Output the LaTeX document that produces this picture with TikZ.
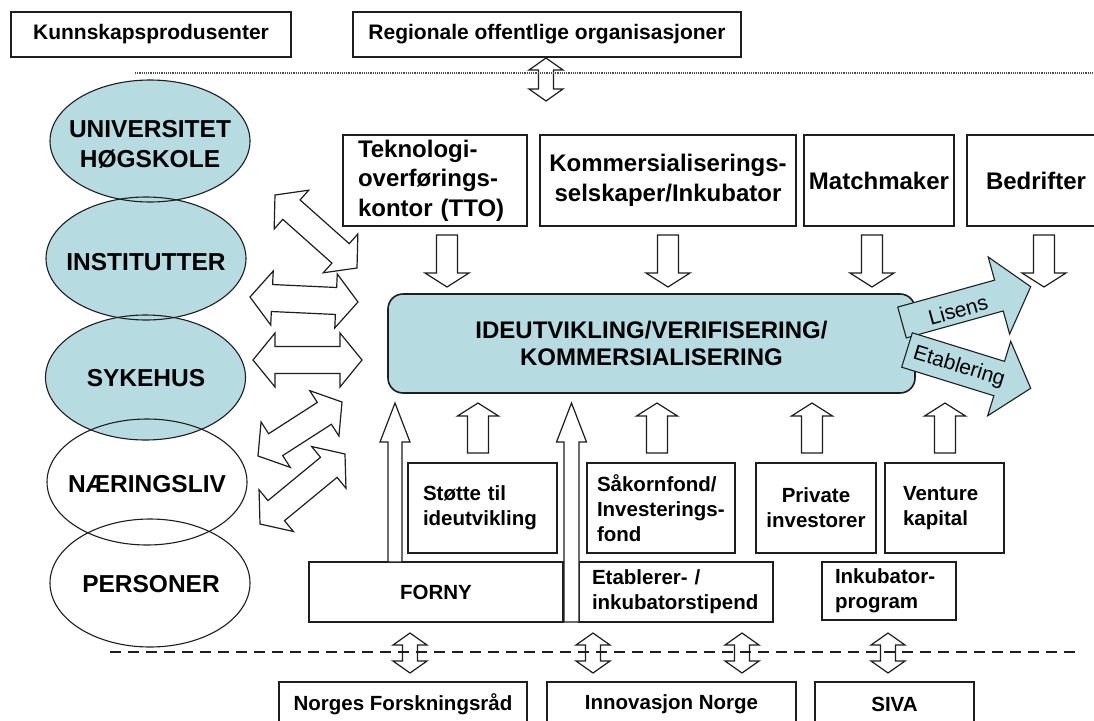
\documentclass[tikz,border=0pt]{standalone}
\usepackage{fontspec}
\setmainfont{Liberation Sans}
\usetikzlibrary{calc,shapes.geometric}
\definecolor{cy}{RGB}{182,220,226}
\definecolor{ln}{RGB}{30,30,30}
% single block arrow: options, tail, tip, shaft half width, head half width, head length
\newcommand\blkarrow[6]{%
 \draw[#1] ($(#2)!#4!90:(#3)$) -- ($(#3)!#6!(#2)!#4!90:(#3)$) -- ($(#3)!#6!(#2)!#5!90:(#3)$) -- (#3)
  -- ($(#3)!#6!(#2)!#5!-90:(#3)$) -- ($(#3)!#6!(#2)!#4!-90:(#3)$) -- ($(#2)!#4!-90:(#3)$) -- cycle;}
% double block arrow: options, end1, end2, shaft half width, head half width, head length
\newcommand\dblarrow[6]{%
 \draw[#1] (#2) -- ($(#2)!#6!(#3)!#5!90:(#3)$) -- ($(#2)!#6!(#3)!#4!90:(#3)$)
  -- ($(#3)!#6!(#2)!#4!-90:(#2)$) -- ($(#3)!#6!(#2)!#5!-90:(#2)$) -- (#3)
  -- ($(#3)!#6!(#2)!#5!90:(#2)$) -- ($(#3)!#6!(#2)!#4!90:(#2)$)
  -- ($(#2)!#6!(#3)!#4!-90:(#3)$) -- ($(#2)!#6!(#3)!#5!-90:(#3)$) -- cycle;}
\begin{document}
\begin{tikzpicture}[x=1pt,y=-1pt,
 box/.style={draw=ln,line width=1.3pt,inner sep=0pt,align=center},
 f21/.style={font=\fontsize{21}{25}\selectfont\bfseries},
 f24/.style={font=\fontsize{24}{29.5}\selectfont\bfseries},
 fc/.style={font=\fontsize{24}{27.5}\selectfont\bfseries},
 f20/.style={font=\fontsize{20.5}{25}\selectfont\bfseries},
 fe/.style={font=\fontsize{24.5}{30}\selectfont\bfseries,align=center},
 fl/.style={font=\fontsize{21}{25}\selectfont},
 ell/.style={ellipse,inner sep=0pt,minimum width=200pt},
 harrow/.style={draw=ln,line width=1.2pt,fill=white,line join=miter},
 carrow/.style={draw=ln,line width=1.1pt,fill=cy,line join=miter}]

\fill[white] (0,0) rectangle (1094,720);
\useasboundingbox (0,0) rectangle (1094,720);
\clip (0,0) rectangle (1094,720);

% ellipses
\node[ell,fill=cy,minimum height=122pt] (univ) at (150,141) {};
\node[ell,fill=cy,minimum height=123pt] (inst) at (146,258.5) {};
\node[ell,fill=cy,minimum height=125pt] (syk) at (145.5,377.5) {};
\node[ell,minimum height=126pt] (naer) at (147,482) {};
\node[ell,minimum height=128pt] (pers) at (150,583) {};
\draw[ln,line width=1.1pt] (univ.center) ellipse [x radius=100pt, y radius=61pt];
\draw[ln,line width=1.1pt] (inst.center) ellipse [x radius=100pt, y radius=61.5pt];
\draw[ln,line width=1.1pt] (syk.center) ellipse [x radius=100pt, y radius=62.5pt];
\draw[ln,line width=1.1pt] (naer.center) ellipse [x radius=100pt, y radius=63pt];
\draw[ln,line width=1.1pt] (pers.center) ellipse [x radius=100pt, y radius=64pt];
\node[fe] (tuniv) at (150,144) {UNIVERSITET\\HØGSKOLE};
\node[fe] (tinst) at (146,262) {INSTITUTTER};
\node[fe] (tsyk) at (146,378) {SYKEHUS};
\node[fe] (tnaer) at (147,484) {NÆRINGSLIV};
\node[fe] (tpers) at (151,584) {PERSONER};

% top boxes
\node[box,f21,minimum width=280pt,minimum height=45pt] (kunn) at (151,34.5) {Kunnskapsprodusenter};
\node[box,f21,minimum width=388pt,minimum height=45pt] (reg) at (547,34.5) {Regionale offentlige organisasjoner};

\node[box,f24,minimum width=184pt,minimum height=91pt,text width=154pt,align=left] (tto) at (435,180.5) {Teknologi-\\overførings-\\kontor (TTO)};
\node[box,f24,minimum width=256pt,minimum height=91pt] (komm) at (668,180.5) {Kommersialiserings-\\selskaper/Inkubator};
\node[box,f24,minimum width=150pt,minimum height=91pt] (match) at (879,180.5) {Matchmaker};
\node[box,f24,minimum width=138pt,minimum height=91pt] (bedr) at (1036,180.5) {Bedrifter};

% central box
\node[box,fc,fill=cy,rounded corners=15pt,minimum width=527pt,minimum height=99pt,line width=1.6pt] (idea) at (651.5,343.5) {IDEUTVIKLING/VERIFISERING/\\KOMMERSIALISERING};

% lower boxes
\node[box,f20,minimum width=149pt,minimum height=90pt,text width=119pt,align=left] (stot) at (482.5,508) {Støtte til\\ideutvikling};
\node[box,f20,minimum width=148pt,minimum height=90pt,text width=128pt,align=left] (sak) at (661,508) {Såkornfond/\\Investerings-\\fond};
\node[box,f20,minimum width=120pt,minimum height=90pt] (priv) at (816,508) {Private\\investorer};
\node[box,f20,minimum width=119pt,minimum height=90pt,text width=83pt,align=left] (vent) at (944.5,508) {Venture\\kapital};
\node[box,f20,minimum width=254pt,minimum height=60pt] (forny) at (436,592) {FORNY};
\node[box,f20,minimum width=194pt,minimum height=60pt,text width=168pt,align=left] (etab) at (676,592) {Etablerer- /\\inkubatorstipend};
\node[box,f20,minimum width=134pt,minimum height=58pt,text width=108pt,align=left] (inkp) at (889,591) {Inkubator-\\program};

% bottom boxes
\node[box,f20,minimum width=248pt,minimum height=45pt] (nfr) at (403,704.5) {Norges Forskningsråd};
\node[box,f20,minimum width=249pt,minimum height=45pt] (inno) at (671.5,704.5) {Innovasjon Norge};
\node[box,f20,minimum width=159pt,minimum height=45pt] (siva) at (894.5,704.5) {SIVA};

% down arrows from top row
\coordinate (dt1) at (447,235);  \coordinate (dh1) at (447,287);
\coordinate (dt2) at (668,235);  \coordinate (dh2) at (668,287);
\coordinate (dt3) at (872,235);  \coordinate (dh3) at (872,287);
\coordinate (dt4) at (1044,235); \coordinate (dh4) at (1044,287);
\blkarrow{harrow}{dt1}{dh1}{10.5pt}{22pt}{14pt}
\blkarrow{harrow}{dt2}{dh2}{10.5pt}{22pt}{14pt}
\blkarrow{harrow}{dt3}{dh3}{10.5pt}{22pt}{14pt}
\blkarrow{harrow}{dt4}{dh4}{10.5pt}{22pt}{14pt}

% up arrows from lower boxes
\coordinate (ut1) at (478,453); \coordinate (uh1) at (478,403);
\coordinate (ut2) at (657,453); \coordinate (uh2) at (657,403);
\coordinate (ut3) at (812,453); \coordinate (uh3) at (812,403);
\coordinate (ut4) at (945,453); \coordinate (uh4) at (945,403);
\blkarrow{harrow}{ut1}{uh1}{10.5pt}{20.5pt}{13pt}
\blkarrow{harrow}{ut2}{uh2}{10.5pt}{20.5pt}{13pt}
\blkarrow{harrow}{ut3}{uh3}{10.5pt}{20.5pt}{13pt}
\blkarrow{harrow}{ut4}{uh4}{10.5pt}{20.5pt}{13pt}

% long up arrows
\coordinate (l1t) at (395,562);   \coordinate (l1h) at (395,403);
\coordinate (l2t) at (571.5,622); \coordinate (l2h) at (571.5,403);
\blkarrow{harrow}{l1t}{l1h}{7pt}{15pt}{39pt}
\blkarrow{harrow}{l2t}{l2h}{7.5pt}{15pt}{39pt}

% left double arrows
\coordinate (d1a) at (275,195); \coordinate (d1b) at (357,268);
\coordinate (h1a) at (250,297); \coordinate (h1b) at (358,302);
\coordinate (h2a) at (253,360); \coordinate (h2b) at (362,360);
\coordinate (d3a) at (258,456); \coordinate (d3b) at (342,402);
\coordinate (d4a) at (260,524); \coordinate (d4b) at (345,454);
\dblarrow{harrow}{d1a}{d1b}{13pt}{26pt}{22pt}
\dblarrow{harrow}{h1a}{h1b}{13.5pt}{27pt}{22pt}
\dblarrow{harrow}{h2a}{h2b}{13.5pt}{27pt}{22pt}
\dblarrow{harrow}{d3a}{d3b}{13pt}{27pt}{21pt}
\dblarrow{harrow}{d4a}{d4b}{13pt}{27pt}{21pt}

% vertical double arrows across the lines
\coordinate (ta) at (546,58); \coordinate (tb) at (546,101);
\dblarrow{harrow,fill=none}{ta}{tb}{7.5pt}{17pt}{12pt}
\coordinate (ba1) at (410,633); \coordinate (bb1) at (410,673);
\coordinate (ba2) at (593,633); \coordinate (bb2) at (593,673);
\coordinate (ba3) at (742,633); \coordinate (bb3) at (742,673);
\coordinate (ba4) at (888,633); \coordinate (bb4) at (888,673);
\dblarrow{harrow,fill=none}{ba1}{bb1}{7.5pt}{17pt}{12pt}
\dblarrow{harrow,fill=none}{ba2}{bb2}{7.5pt}{17pt}{12pt}
\dblarrow{harrow,fill=none}{ba3}{bb3}{7.5pt}{17pt}{12pt}
\dblarrow{harrow,fill=none}{ba4}{bb4}{7.5pt}{17pt}{12pt}

% separator lines
\coordinate (dotL) at (135,73); \coordinate (dotR) at (1094,73);
\draw[black!70,line width=1.2pt,dash pattern=on 1.2pt off 1pt] (dotL) -- (dotR);
\coordinate (dashL) at (110,652); \coordinate (dashR) at (1075,652);
\draw[ln,line width=1.6pt,dash pattern=on 11pt off 7pt] (dashL) -- (dashR);

% Lisens / Etablering arrows
\coordinate (lt) at (902,322.5); \coordinate (lh) at (1030.7,286.7);
\blkarrow{carrow}{lt}{lh}{16pt}{40pt}{33pt}
\node[fl,rotate=15.5,inner sep=1pt] (lis) at (958,310) {Lisens};
\coordinate (et) at (907,350); \coordinate (eh) at (1030.7,388.3);
\blkarrow{carrow}{et}{eh}{18pt}{39pt}{33pt}
\node[fl,rotate=-17,inner sep=1pt] (etb) at (959,367) {Etablering};
\end{tikzpicture}
\end{document}
